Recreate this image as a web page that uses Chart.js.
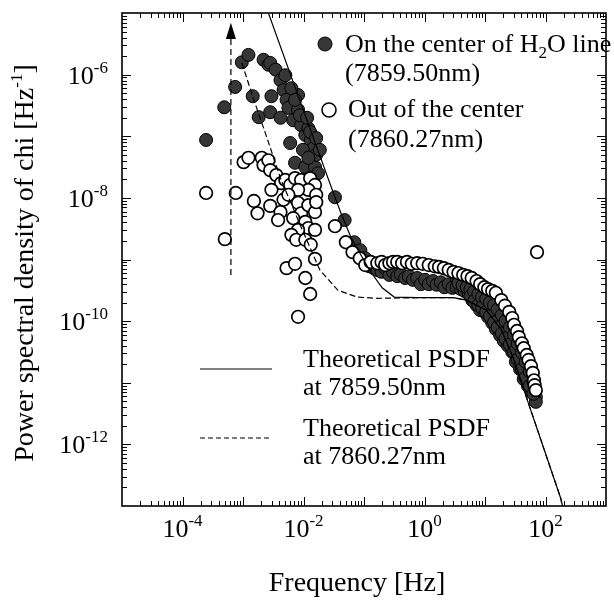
<!DOCTYPE html>
<html><head><meta charset="utf-8">
<script src="https://cdn.jsdelivr.net/npm/chart.js@4/dist/chart.umd.min.js"></script>
<style>html,body{margin:0;padding:0;background:#fff;overflow:hidden}canvas{display:block}</style>
</head><body>
<canvas id="c" width="614" height="601"></canvas>
<script>
// ---- data (log10 of frequency [Hz] and log10 of PSD [Hz^-1]) ----
const onCenterLowLogF = [-3.61,-3.31,-3.13,-3.02,-2.91,-2.84,-2.74,-2.66,-2.58,-2.55,-2.53,-2.46,-2.38,-2.33,-2.28,-2.55,-2.38,-2.22,-2.25,-2.17,-2.09,-2.04,-1.97,-1.92,-1.88,-1.83,-2.01,-2.14,-1.97,-1.81,-1.76,-2.09,-2.30,-2.20,-2.14,-2.06,-1.94,-1.89,-1.79,-1.79,-1.73,-1.92,-1.48,-1.32,-1.16,-1.06];
const onCenterLowLogP = [-7.06,-6.53,-6.20,-5.80,-5.68,-6.35,-6.69,-5.76,-5.84,-5.81,-6.35,-5.92,-6.09,-6.25,-6.41,-6.61,-6.70,-7.11,-6.54,-6.74,-6.57,-6.82,-6.98,-6.87,-7.06,-7.19,-7.22,-7.43,-7.50,-7.50,-7.60,-6.33,-6.01,-6.22,-6.41,-6.66,-6.70,-6.93,-7.03,-7.30,-7.22,-7.35,-7.99,-8.36,-8.72,-8.85];
const onCenterPlateauLogF = [-0.98,-0.91,-0.84,-0.78,-0.71,-0.65,-0.58,-0.52,-0.45,-0.39,-0.32,-0.26,-0.19,-0.12,-0.06,0.01,0.07,0.14,0.20,0.27,0.33,0.40,0.46];
const onCenterPlateauLogP = [-8.98,-9.11,-9.14,-9.17,-9.20,-9.14,-9.25,-9.20,-9.27,-9.24,-9.30,-9.27,-9.33,-9.30,-9.40,-9.33,-9.40,-9.35,-9.41,-9.37,-9.45,-9.40,-9.46];
const onCenterBandLogF = [0.53,0.53,0.60,0.60,0.66,0.66,0.73,0.73,0.79,0.79,0.79,0.86,0.86,0.86,0.92,0.92,0.92,0.99,0.99,0.99,1.05,1.05,1.05,1.12,1.12,1.12,1.18,1.18,1.18,1.25,1.25,1.25,1.31,1.31,1.31,1.38,1.38,1.38,1.45,1.45,1.45,1.51,1.51,1.51,1.58,1.58,1.58,1.64,1.64,1.64,1.71,1.71,1.71,1.77,1.77,1.77,1.84,1.84];
const onCenterBandLogP = [-9.30,-9.45,-9.32,-9.48,-9.35,-9.51,-9.37,-9.56,-9.40,-9.56,-9.66,-9.45,-9.61,-9.74,-9.50,-9.66,-9.82,-9.54,-9.69,-9.85,-9.58,-9.75,-9.93,-9.61,-9.82,-10.03,-9.66,-9.88,-10.13,-9.74,-9.98,-10.23,-9.84,-10.08,-10.32,-9.93,-10.18,-10.40,-10.05,-10.27,-10.50,-10.19,-10.42,-10.66,-10.32,-10.55,-10.78,-10.50,-10.71,-10.94,-10.66,-10.86,-11.05,-10.83,-10.99,-11.15,-11.23,-11.31];
const onCenterBandMidLogF = [0.56,0.63,0.70,0.76,0.76,0.82,0.82,0.89,0.89,0.95,0.95,1.02,1.02,1.08,1.08,1.15,1.15,1.21,1.21,1.28,1.28,1.34,1.34,1.41,1.41,1.48,1.48,1.54,1.54,1.61,1.61,1.67,1.67,1.74,1.74,1.80,1.80];
const onCenterBandMidLogP = [-9.38,-9.42,-9.45,-9.48,-9.60,-9.52,-9.68,-9.56,-9.74,-9.61,-9.78,-9.64,-9.85,-9.70,-9.92,-9.74,-10.02,-9.81,-10.10,-9.90,-10.20,-10.00,-10.28,-10.10,-10.38,-10.22,-10.50,-10.37,-10.62,-10.51,-10.78,-10.66,-10.92,-10.82,-11.05,-10.98,-11.18];

const outCenterLowLogF = [-3.61,-3.12,-2.99,-2.91,-2.69,-2.66,-2.58,-2.55,-2.45,-2.37,-2.30,-2.22,-2.14,-2.04,-1.89,-1.81,-1.92,-2.09,-2.82,-2.76,-2.55,-2.53,-2.38,-2.42,-2.33,-2.25,-2.09,-2.04,-2.17,-1.92,-1.79,-1.81,-1.79,-1.97,-1.92,-2.09,-2.20,-2.12,-1.97,-1.88,-1.81,-3.30,-2.28,-2.14,-1.97,-1.89,-2.09,-1.81];
const outCenterLowLogP = [-7.92,-7.92,-7.42,-7.35,-7.35,-7.47,-7.39,-7.55,-7.63,-7.76,-7.71,-7.79,-7.68,-7.71,-7.68,-7.79,-7.87,-7.87,-8.05,-8.25,-8.13,-7.87,-8.23,-8.36,-8.03,-7.95,-8.08,-8.25,-8.33,-8.12,-7.95,-8.23,-8.07,-8.39,-8.49,-8.52,-8.60,-8.68,-8.68,-8.76,-8.52,-8.67,-9.14,-9.07,-9.30,-9.56,-9.93,-8.99];
const outCenterHighLogF = [-1.48,-1.30,-1.19,-1.07,-0.98,-0.89,-0.78,-0.71,-0.65,-0.58,-0.52,-0.45,-0.37,-0.29,-0.21,-0.12,-0.03,0.07,0.17,0.24,0.32,0.40,0.48,0.56,0.64,0.71,0.78,0.86,0.92,0.99,1.05,1.12,1.18,1.27,1.33,1.40,1.45,1.48,1.53,1.56,1.61,1.64,1.69,1.72,1.76,1.79,1.81,1.82,1.84,1.86];
const outCenterHighLogP = [-8.46,-8.72,-8.88,-8.98,-9.09,-9.04,-9.06,-9.04,-9.09,-9.06,-9.04,-9.04,-9.06,-9.04,-9.07,-9.06,-9.07,-9.09,-9.11,-9.12,-9.14,-9.17,-9.20,-9.22,-9.25,-9.27,-9.30,-9.35,-9.40,-9.45,-9.48,-9.51,-9.54,-9.66,-9.75,-9.85,-9.95,-10.06,-10.16,-10.26,-10.36,-10.44,-10.55,-10.63,-10.73,-10.84,-10.96,-11.04,-11.12,-8.88];

const theoryOnLogF = [-2.58,-2.01,-1.48,-1.38,-1.22,-1.06,-0.91,-0.70,-0.50,-0.12,0.48,0.69,1.02,1.27,1.48,1.71,2.25,2.28];
const theoryOnLogP = [-5.00,-6.56,-7.99,-8.25,-8.63,-8.91,-9.17,-9.46,-9.61,-9.62,-9.62,-9.66,-9.82,-10.14,-10.63,-11.31,-12.87,-13.00];
const theoryOffLogF = [-3.02,-2.82,-2.63,-2.37,-2.01,-1.73,-1.43,-1.11,-0.78,-0.12,0.48,0.69,1.02,1.27,1.48,1.71,2.25,2.28];
const theoryOffLogP = [-5.81,-6.41,-6.95,-7.71,-8.54,-9.17,-9.50,-9.61,-9.63,-9.62,-9.62,-9.66,-9.82,-10.14,-10.63,-11.31,-12.87,-13.00];

const arrowLogF = [-3.20,-3.20];
const arrowLogP = [-9.25,-5.42];
const arrowTipLogP = -5.16;

const xLabelExps = ['-4','-2','0','2'];
const yLabelExps = ['-6','-8','-10','-12'];
const legendTexts = ['On the center of H','2','O line','(7859.50nm)','Out of the center','(7860.27nm)'];
const theoryTexts = ['Theoretical PSDF','at 7859.50nm','Theoretical PSDF','at 7860.27nm'];
const xTitle = 'Frequency [Hz]';
const yTitle = 'Power spectral density of chi [Hz';
const yTitleExp = '-1';

function pts(F, P){ return F.map((f,i)=>({x:Math.pow(10,f), y:Math.pow(10,P[i])})); }

const SERIF = '"Liberation Serif","Times New Roman",serif';
const FILL = '#363636';

const decor = {
  id:'decor',
  afterDatasetsDraw(chart){
    const ctx = chart.ctx, a = chart.chartArea, xs = chart.scales.x, ys = chart.scales.y;
    ctx.save();
    // arrowhead
    const ax = xs.getPixelForValue(Math.pow(10, arrowLogF[1]));
    const ab = ys.getPixelForValue(Math.pow(10, arrowLogP[1]));
    const at = ys.getPixelForValue(Math.pow(10, arrowTipLogP));
    ctx.fillStyle = '#000';
    ctx.beginPath(); ctx.moveTo(ax, at); ctx.lineTo(ax-5, ab); ctx.lineTo(ax+5, ab); ctx.closePath(); ctx.fill();

    // ticks on all four sides (inward)
    ctx.strokeStyle = '#000'; ctx.lineWidth = 1;
    const seg = (x1,y1,x2,y2)=>{ctx.beginPath();ctx.moveTo(x1,y1);ctx.lineTo(x2,y2);ctx.stroke();};
    for (let e=-5; e<=3; e++) for (let m=1; m<=9; m++){
      const v = m*Math.pow(10,e); if (v < 1e-5*1.0001 || v > 1e3/1.0001) continue;
      const p = Math.round(xs.getPixelForValue(v))+0.5, L = m===1?9:5;
      seg(p, a.bottom, p, a.bottom-L); seg(p, a.top, p, a.top+L);
    }
    for (let e=-13; e<=-5; e++) for (let m=1; m<=9; m++){
      const v = m*Math.pow(10,e); if (v < 1e-13*1.0001 || v > 1e-5/1.0001) continue;
      const p = Math.round(ys.getPixelForValue(v))+0.5, L = m===1?9:5;
      seg(a.left, p, a.left+L, p); seg(a.right, p, a.right-L, p);
    }
    // frame
    ctx.lineWidth = 1.6;
    ctx.strokeRect(a.left, a.top, a.right-a.left, a.bottom-a.top);

    // tick labels
    ctx.fillStyle = '#000'; ctx.textBaseline = 'alphabetic';
    const base = '26px '+SERIF, sup = '17px '+SERIF;
    xLabelExps.forEach(ex=>{
      ctx.font = base; const w1 = ctx.measureText('10').width;
      ctx.font = sup; const w2 = ctx.measureText(ex).width;
      const cx = xs.getPixelForValue(Math.pow(10, +ex));
      const x0 = cx - (w1+w2)/2;
      ctx.textAlign='left';
      ctx.font = base; ctx.fillText('10', x0, 537);
      ctx.font = sup; ctx.fillText(ex, x0+w1, 526);
    });
    yLabelExps.forEach(ex=>{
      ctx.font = base; const w1 = ctx.measureText('10').width;
      ctx.font = sup; const w2 = ctx.measureText(ex).width;
      const cy = ys.getPixelForValue(Math.pow(10, +ex));
      const xr = 108;
      ctx.textAlign='left';
      ctx.font = base; ctx.fillText('10', xr-w2-w1, cy+9);
      ctx.font = sup; ctx.fillText(ex, xr-w2, cy-2);
    });

    // axis titles
    ctx.font = '28px '+SERIF; ctx.textAlign='center';
    ctx.fillText(xTitle, 357, 591);
    ctx.save();
    ctx.translate(33, 263); ctx.rotate(-Math.PI/2);
    ctx.font = '28px '+SERIF; const t1 = ctx.measureText(yTitle).width;
    ctx.font = '17px '+SERIF; const t2 = ctx.measureText(yTitleExp).width;
    ctx.font = '28px '+SERIF; const t3 = ctx.measureText(']').width;
    let sx = -(t1+t2+t3)/2;
    ctx.textAlign='left';
    ctx.fillText(yTitle, sx, 0);
    ctx.font = '17px '+SERIF; ctx.fillText(yTitleExp, sx+t1, -11);
    ctx.font = '28px '+SERIF; ctx.fillText(']', sx+t1+t2, 0);
    ctx.restore();

    // legend (symbols)
    ctx.textAlign='left';
    ctx.fillStyle = FILL; ctx.strokeStyle='#000'; ctx.lineWidth=1;
    ctx.beginPath(); ctx.arc(325,44,7,0,Math.PI*2); ctx.fill(); ctx.stroke();
    ctx.fillStyle = '#fff'; ctx.lineWidth=1.6;
    ctx.beginPath(); ctx.arc(329,110,7,0,Math.PI*2); ctx.fill(); ctx.stroke();
    ctx.fillStyle = '#000';
    const lf = '26px '+SERIF, sf = '17px '+SERIF;
    ctx.font = lf; ctx.fillText(legendTexts[0], 345, 52);
    let w = ctx.measureText(legendTexts[0]).width;
    ctx.font = sf; ctx.fillText(legendTexts[1], 345+w, 58);
    let w2 = ctx.measureText(legendTexts[1]).width;
    ctx.font = lf; ctx.fillText(legendTexts[2], 345+w+w2, 52);
    ctx.fillText(legendTexts[3], 345, 81);
    ctx.fillText(legendTexts[4], 348, 117);
    ctx.fillText(legendTexts[5], 348, 147);

    // theory legend
    ctx.lineWidth = 1.2; ctx.strokeStyle='#000';
    ctx.setLineDash([]); seg(200, 369, 272, 369);
    ctx.setLineDash([5,3]); seg(200, 438, 272, 438); ctx.setLineDash([]);
    ctx.fillText(theoryTexts[0], 303, 367);
    ctx.fillText(theoryTexts[1], 303, 395);
    ctx.fillText(theoryTexts[2], 303, 436);
    ctx.fillText(theoryTexts[3], 303, 464);
    ctx.restore();
  }
};

new Chart(document.getElementById('c'), {
  type:'scatter',
  data:{datasets:[
    {label:'Theoretical PSDF at 7859.50nm', data:pts(theoryOnLogF, theoryOnLogP), showLine:true, borderColor:'#000', borderWidth:1.2, pointRadius:0, fill:false},
    {label:'Theoretical PSDF at 7860.27nm', data:pts(theoryOffLogF, theoryOffLogP), showLine:true, borderColor:'#000', borderWidth:1.2, borderDash:[6,3], pointRadius:0, fill:false},
    {label:'arrow', data:pts(arrowLogF, arrowLogP), showLine:true, borderColor:'#000', borderWidth:1.2, borderDash:[6,4], pointRadius:0, fill:false},
    {label:'Out of the center (7860.27nm)', data:pts(outCenterLowLogF.concat(outCenterHighLogF), outCenterLowLogP.concat(outCenterHighLogP)), pointRadius:6.3, pointBackgroundColor:'#fff', pointBorderColor:'#000', pointBorderWidth:1.7},
    {label:'On the center of H2O line (7859.50nm)', data:pts(onCenterLowLogF.concat(onCenterPlateauLogF, onCenterBandLogF, onCenterBandMidLogF), onCenterLowLogP.concat(onCenterPlateauLogP, onCenterBandLogP, onCenterBandMidLogP)), pointRadius:6.5, pointBackgroundColor:FILL, pointBorderColor:'#000', pointBorderWidth:1}
  ]},
  options:{
    responsive:false, animation:false, devicePixelRatio:1,
    layout:{padding:{top:13,right:3,left:0,bottom:0}},
    plugins:{legend:{display:false}, tooltip:{enabled:false}},
    scales:{
      x:{type:'logarithmic', min:1e-5, max:1e3, grid:{display:false}, border:{display:false}, ticks:{display:false}, afterFit(s){s.height=95;}},
      y:{type:'logarithmic', min:1e-13, max:1e-5, grid:{display:false}, border:{display:false}, ticks:{display:false}, afterFit(s){s.width=122;}}
    }
  },
  plugins:[decor]
});
</script>
</body></html>
